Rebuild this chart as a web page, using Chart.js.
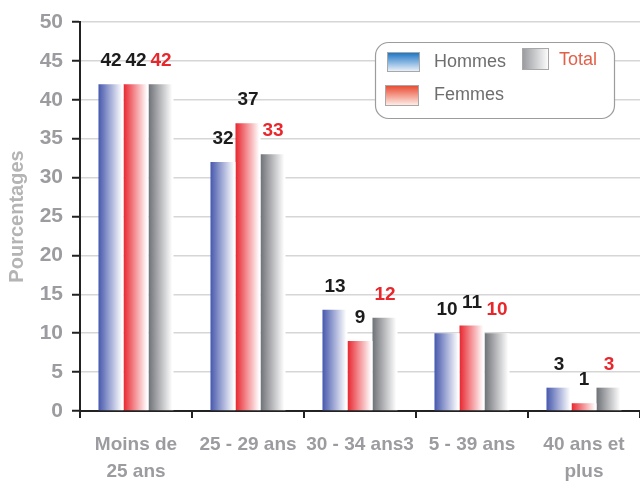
<!DOCTYPE html>
<html>
<head>
<meta charset="utf-8">
<script src="https://cdn.jsdelivr.net/npm/chart.js@4"></script>
<style>
  body { margin: 0; background: #fff; }
  #chart { display: block; }
</style>
</head>
<body>
<canvas id="chart" width="640" height="482"></canvas>
<script>
const categories = [["Moins de", "25 ans"], "25 - 29 ans", "30 - 34 ans3", "5 - 39 ans", ["40 ans et", "plus"]];
const hommes = [42, 32, 13, 10, 3];
const femmes = [42, 37, 9, 11, 1];
const total = [42, 33, 12, 10, 3];
const yTicks = [0, 5, 10, 15, 20, 25, 30, 35, 40, 45, 50];

const barColors = ["#4658ad", "#e8262e", "#6e7176"];
const labelColors = ["#1c1c1c", "#1c1c1c", "#e8262c"];
const FONT = "'Liberation Sans', Arial, sans-serif";

// horizontal colour -> white fade on each bar
const gradientBars = {
  id: "gradientBars",
  beforeDatasetsDraw(chart) {
    const c = chart.ctx;
    chart.data.datasets.forEach((ds, i) => {
      chart.getDatasetMeta(i).data.forEach(bar => {
        const g = c.createLinearGradient(bar.x - bar.width / 2, 0, bar.x + bar.width / 2, 0);
        g.addColorStop(0, barColors[i]);
        g.addColorStop(0.95, "#ffffff");
        g.addColorStop(1, "#ffffff");
        // options can be shared between bars, so give each one its own copy
        bar.options = Object.assign({}, bar.options, { backgroundColor: g });
      });
    });
  }
};

// values above the bars
const valueLabels = {
  id: "valueLabels",
  afterDatasetsDraw(chart) {
    const c = chart.ctx;
    c.save();
    c.font = "bold 19px " + FONT;
    c.textAlign = "center";
    c.textBaseline = "middle";
    chart.data.datasets.forEach((ds, i) => {
      c.fillStyle = labelColors[i];
      chart.getDatasetMeta(i).data.forEach((bar, j) => {
        c.fillText(ds.data[j], bar.x, bar.y - 23);
      });
    });
    c.restore();
  }
};

// boxed legend, top right
const boxLegend = {
  id: "boxLegend",
  afterDraw(chart) {
    const c = chart.ctx;
    const ds = chart.data.datasets;
    c.save();
    c.beginPath();
    c.roundRect(375.5, 42.5, 239, 76, 13);
    c.fillStyle = "#fff";
    c.fill();
    c.strokeStyle = "#9c9c9c";
    c.lineWidth = 1.2;
    c.stroke();

    function swatch(x, y, w, h, g) {
      c.fillStyle = g;
      c.fillRect(x, y, w, h);
      c.strokeStyle = "#a8a8a8";
      c.lineWidth = 1;
      c.strokeRect(x + 0.5, y + 0.5, w - 1, h - 1);
    }
    let g = c.createLinearGradient(0, 52, 0, 72);
    g.addColorStop(0, "#1470c2");
    g.addColorStop(1, "#f4f6fc");
    swatch(387, 52, 33, 20, g);
    g = c.createLinearGradient(0, 85, 0, 106);
    g.addColorStop(0, "#e8452a");
    g.addColorStop(1, "#fff4f0");
    swatch(385, 85, 34, 21, g);
    g = c.createLinearGradient(522, 0, 549, 0);
    g.addColorStop(0, "#96989c");
    g.addColorStop(1, "#ffffff");
    swatch(522, 48, 27, 22, g);

    c.font = "18px " + FONT;
    c.textAlign = "left";
    c.textBaseline = "middle";
    c.fillStyle = "#6e6e6e";
    c.fillText(ds[0].label, 434, 62);
    c.fillText(ds[1].label, 434, 95);
    c.fillStyle = "#e2604a";
    c.fillText(ds[2].label, 559, 60);
    c.restore();
  }
};

new Chart(document.getElementById("chart"), {
  type: "bar",
  data: {
    labels: categories,
    datasets: [
      { label: "Hommes", data: hommes, backgroundColor: barColors[0] },
      { label: "Femmes", data: femmes, backgroundColor: barColors[1] },
      { label: "Total", data: total, backgroundColor: barColors[2] }
    ]
  },
  options: {
    responsive: false,
    animation: false,
    devicePixelRatio: 1,
    layout: { padding: { top: 22, right: 0, left: 0, bottom: 0 } },
    datasets: { bar: { barPercentage: 1, categoryPercentage: 0.67, borderWidth: 0 } },
    plugins: { legend: { display: false }, tooltip: { enabled: false } },
    scales: {
      x: {
        afterFit: s => { s.height = 71; },
        grid: { drawOnChartArea: false, tickLength: 7, tickColor: "#222", tickWidth: 2, lineWidth: 2 },
        border: { color: "#222", width: 2 },
        ticks: {
          color: "#9c9ca0",
          font: { family: FONT, size: 19, weight: "bold", lineHeight: 1.42 },
          padding: 13,
          maxRotation: 0,
          autoSkip: false
        }
      },
      y: {
        min: 0,
        max: 50,
        afterFit: s => { s.width = 80; },
        afterBuildTicks: s => { s.ticks = yTicks.map(v => ({ value: v })); },
        grid: { color: "#d6d6d6", lineWidth: 1.5, tickLength: 8, tickColor: "#222", tickWidth: 2 },
        border: { color: "#222", width: 2 },
        ticks: {
          color: "#9c9ca0",
          font: { family: FONT, size: 21, weight: "bold" },
          padding: 9
        },
        title: {
          display: true,
          text: "Pourcentages",
          color: "#b4b4b4",
          font: { family: FONT, size: 20, weight: "bold" },
          padding: { top: 5, bottom: 0 }
        }
      }
    }
  },
  plugins: [gradientBars, valueLabels, boxLegend]
});
</script>
</body>
</html>
